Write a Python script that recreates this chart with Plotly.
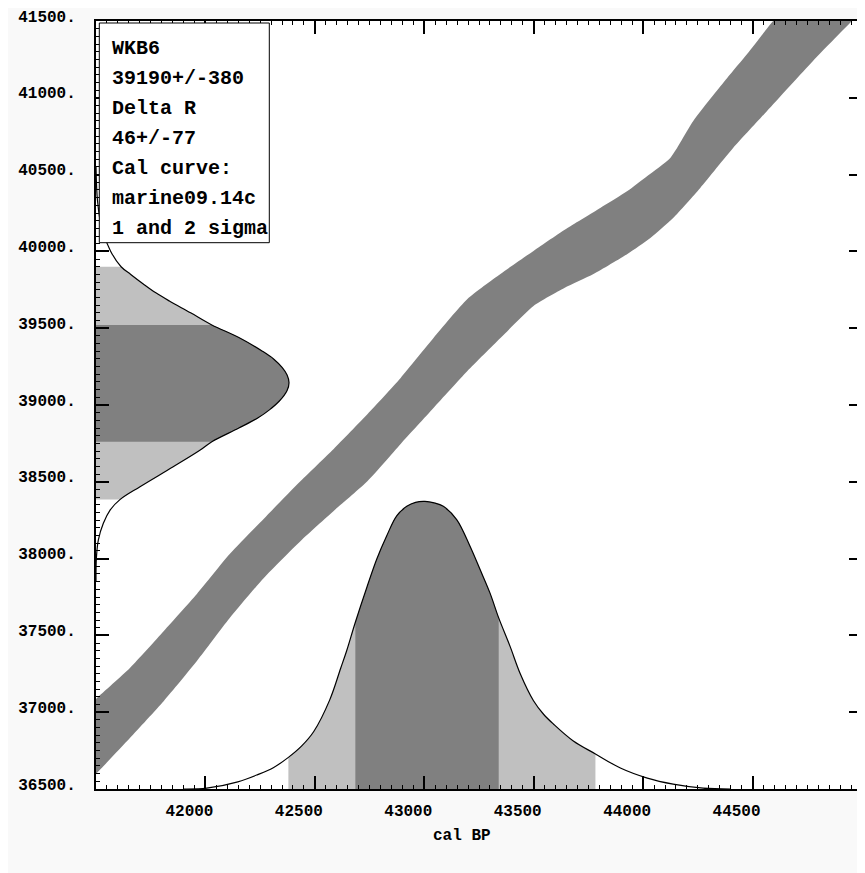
import plotly.graph_objects as go

# ---------------- data ----------------
# calibration curve band (marine09), edges
band_upper_cal = [41400, 41500, 41655, 41810, 41961, 42111, 42267, 42435, 42586, 42741, 42892,
                  43042, 43197, 43348, 43499, 43654, 43804, 43928, 44019, 44124, 44229,
                  44384, 44475, 44594, 44660]
band_upper_c14 = [36940, 37086, 37288, 37529, 37770, 38030, 38260, 38505, 38714, 38941, 39176,
                  39436, 39690, 39853, 40003, 40152, 40283, 40393, 40491, 40608, 40849,
                  41129, 41285, 41500, 41600]
band_lower_cal = [41400, 41500, 41655, 41810, 41961, 42111, 42267, 42435, 42586, 42741, 42892,
                  43042, 43197, 43348, 43499, 43640, 43773, 43928, 44033, 44137, 44261,
                  44411, 44566, 44776, 44945, 45050]
band_lower_c14 = [36450, 36598, 36832, 37073, 37333, 37613, 37874, 38115, 38310, 38505, 38746,
                  38980, 39221, 39436, 39645, 39762, 39853, 39983, 40087, 40217, 40413,
                  40673, 40914, 41240, 41487, 41640]

# radiocarbon age distribution (relative probability)
c14_age = [37850, 38004, 38121, 38230, 38316, 38384, 38468, 38598, 38707, 38761, 38850,
           38917, 38970, 39026, 39095, 39145, 39195, 39243, 39300, 39352, 39440, 39521,
           39600, 39677, 39730, 39788, 39850, 39900, 40003, 40150, 40328, 40550]
c14_prob = [0.0, 0.002, 0.012, 0.038, 0.073, 0.124, 0.228, 0.40, 0.54, 0.60, 0.74,
            0.84, 0.90, 0.95, 0.99, 1.0, 0.99, 0.965, 0.92, 0.86, 0.74, 0.60,
            0.49, 0.38, 0.31, 0.245, 0.18, 0.13, 0.075, 0.03, 0.008, 0.0]
c14_1sig = (38761, 39521)
c14_2sig = (38384, 39900)

# calibrated age distribution (relative probability)
cal_age = [41900, 42006, 42148, 42239, 42312, 42379, 42440, 42495, 42568, 42618, 42645,
           42685, 42737, 42783, 42828, 42874, 42920, 42960, 43003, 43045, 43087, 43148,
           43209, 43255, 43300, 43340, 43392, 43439, 43499, 43545, 43590, 43681, 43782,
           43896, 44019, 44137, 44274, 44400]
cal_prob = [0.0, 0.003, 0.025, 0.05, 0.075, 0.11, 0.15, 0.20, 0.31, 0.42, 0.48,
            0.58, 0.70, 0.80, 0.88, 0.95, 0.983, 0.997, 1.0, 0.995, 0.983, 0.937,
            0.844, 0.763, 0.682, 0.595, 0.496, 0.40, 0.307, 0.26, 0.226, 0.167, 0.122,
            0.073, 0.038, 0.017, 0.003, 0.0]
cal_1sig = (42685, 43340)
cal_2sig = (42379, 43782)

x_ticks = [42000, 42500, 43000, 43500, 44000, 44500]
x_ticktext = ["42000", "42500", "43000", "43500", "44000", "44500"]
y_ticks = [36500, 37000, 37500, 38000, 38500, 39000, 39500, 40000, 40500, 41000, 41500]
y_ticktext = ["36500.", "37000.", "37500.", "38000.", "38500.", "39000.", "39500.",
              "40000.", "40500.", "41000.", "41500."]

info_lines = ["WKB6", "39190+/-380", "Delta R", "46+/-77", "Cal curve:",
              "marine09.14c", "1 and 2 sigma"]
x_title = "cal BP"

# ---------------- drawing constants ----------------
X0, X1 = 41500, 45000
Y0, Y1 = 36500, 41500
C14_SCALE = 882    # horizontal extent of c14 distribution (cal yr)
CAL_SCALE = 1872   # vertical extent of cal distribution (c14 yr)
DARK = "#808080"
LIGHT = "#c0c0c0"
FONT = "Nimbus Mono PS, Courier New, Liberation Mono, monospace"
SMOOTH = 1.0

fig = go.Figure()

# calibration band
fig.add_trace(go.Scatter(
    x=band_upper_cal + band_lower_cal[::-1],
    y=band_upper_c14 + band_lower_c14[::-1],
    fill="toself", fillcolor=DARK,
    line=dict(width=0, color=DARK, shape="spline", smoothing=0.6),
    mode="lines", hoverinfo="skip"))

c14_x = [X0 + C14_SCALE * p for p in c14_prob]
cal_y = [Y0 + CAL_SCALE * p for p in cal_prob]


def subset(vals, other, lo, hi):
    a, b = [], []
    for v, o in zip(vals, other):
        if lo - 1 <= v <= hi + 1:
            a.append(v)
            b.append(o)
    return a, b


# c14 distribution fills (horizontal, toward the left axis)
for (lo, hi), col in [(c14_2sig, LIGHT), (c14_1sig, DARK)]:
    ys, xs = subset(c14_age, c14_x, lo, hi)
    fig.add_trace(go.Scatter(
        x=xs, y=ys, fill="tozerox", fillcolor=col,
        line=dict(width=0, color=col, shape="spline", smoothing=SMOOTH),
        mode="lines", hoverinfo="skip"))

# cal distribution fills (vertical, toward the bottom axis)
for (lo, hi), col in [(cal_2sig, LIGHT), (cal_1sig, DARK)]:
    xs, ys = subset(cal_age, cal_y, lo, hi)
    fig.add_trace(go.Scatter(
        x=xs, y=ys, fill="tozeroy", fillcolor=col,
        line=dict(width=0, color=col, shape="spline", smoothing=SMOOTH),
        mode="lines", hoverinfo="skip"))

# outlines
fig.add_trace(go.Scatter(x=c14_x, y=c14_age, mode="lines",
                         line=dict(color="black", width=1.2, shape="spline", smoothing=SMOOTH),
                         hoverinfo="skip"))
fig.add_trace(go.Scatter(x=cal_age, y=cal_y, mode="lines",
                         line=dict(color="black", width=1.2, shape="spline", smoothing=SMOOTH),
                         hoverinfo="skip"))

tickfont = dict(family=FONT, size=16, color="black", weight="bold")
common = dict(ticks="inside", ticklen=13, tickwidth=1.5, tickcolor="black",
              showline=True, linewidth=2, linecolor="black", mirror="allticks",
              showgrid=False, zeroline=False, tickfont=tickfont, automargin=False)

fig.update_xaxes(range=[X0, X1], tickmode="array", tickvals=x_ticks, ticktext=x_ticktext,
                 ticklabelshift=-16, ticklabelstandoff=6,
                 minor=dict(ticks="inside", ticklen=4, tickwidth=1, tickcolor="black",
                            tickmode="linear", tick0=X0, dtick=50, showgrid=False),
                 **common)
fig.update_yaxes(range=[Y0, Y1], tickmode="array", tickvals=y_ticks, ticktext=y_ticktext,
                 ticklabelshift=-5, ticklabelstandoff=15,
                 minor=dict(ticks="inside", ticklen=4, tickwidth=1, tickcolor="black",
                            tickmode="linear", tick0=Y0, dtick=50, showgrid=False),
                 **common)

# page body has an 8px margin: place the plot area at (96..862, 21..789) of the window
OFF = 8
W, H = 865, 873
PL, PT = 96 - OFF, 21 - OFF
PR = OFF + W - 862
PB = OFF + H - 789
pw, ph = W - PL - PR, H - PT - PB


def px2paper(px, py):
    return (px - OFF - PL) / pw, 1 - (py - OFF - PT) / ph


bx0, by1 = px2paper(99.3, 23)
bx1, by0 = px2paper(269.3, 242.7)
fig.add_shape(type="rect", xref="paper", yref="paper", x0=bx0, x1=bx1, y0=by0, y1=by1,
              fillcolor="white", line=dict(color="black", width=1), layer="above")

for i, t in enumerate(info_lines):
    ax, ay = px2paper(110, 48 + 30 * i)
    fig.add_annotation(xref="paper", yref="paper", x=ax, y=ay, text=t, showarrow=False,
                       xanchor="left", yanchor="middle",
                       font=dict(family=FONT, size=20, color="black", weight="bold"))

tx, ty = px2paper(462, 836)
fig.add_annotation(xref="paper", yref="paper", x=tx, y=ty, text=x_title, showarrow=False,
                   xanchor="center", yanchor="middle",
                   font=dict(family=FONT, size=16, color="black", weight="bold"))

fig.update_layout(width=W, height=H, margin=dict(l=PL, r=PR, t=PT, b=PB, pad=0),
                  paper_bgcolor="#f9f9f9", plot_bgcolor="white", showlegend=False)

fig.write_html("out.html")
